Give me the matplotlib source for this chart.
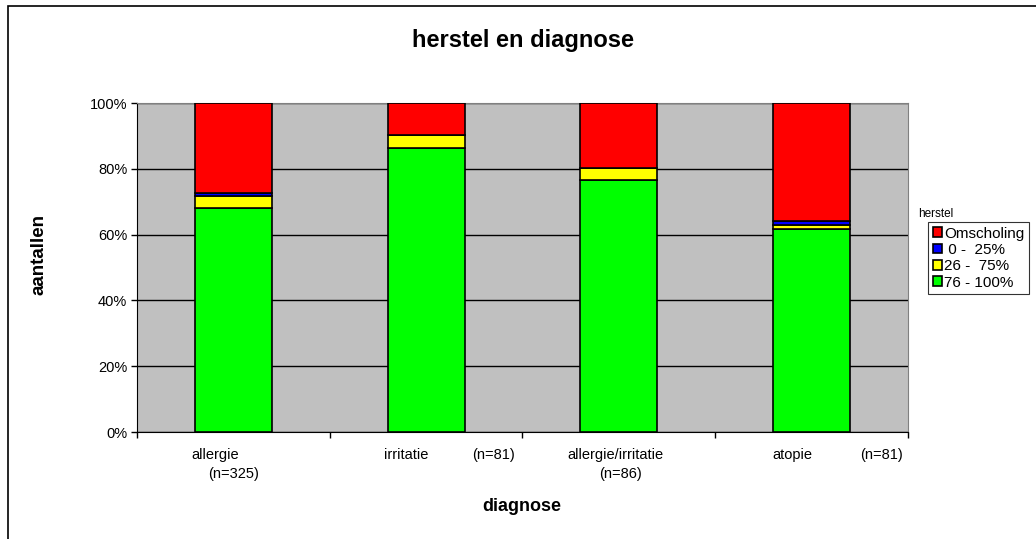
import numpy as np
import matplotlib as mpl

mpl.use('Agg')
import matplotlib.pyplot as plt

plt.rcParams['font.family'] = ['Liberation Sans', 'DejaVu Sans']

categories = ['allergie', 'irritatie', 'allergie/irritatie', 'atopie']
n_labels = ['(n=325)', '(n=81)', '(n=86)', '(n=81)']
# counts per category (normalised to 100%)
green = np.array([221, 70, 66, 50])   # 76 - 100%
yellow = np.array([12, 3, 3, 1])      # 26 - 75%
blue = np.array([3, 0, 0, 1])         # 0 - 25%
red = np.array([89, 8, 17, 29])       # Omscholing

series = [('76 - 100%', green, '#00FF00'),
          ('26 -  75%', yellow, '#FFFF00'),
          (' 0 -  25%', blue, '#0000FF'),
          ('Omscholing', red, '#FF0000')]

total = green + yellow + blue + red

fig = plt.figure(figsize=(10.36, 5.39), dpi=100)
ax = fig.add_axes([0.1322, 0.1985, 0.7442, 0.6104])
ax.set_facecolor('#C0C0C0')

x = np.arange(len(categories))
bottom = np.zeros(len(categories))
handles = []
for label, vals, col in series:
    pct = vals / total
    h = ax.bar(x, pct, 0.4, bottom=bottom, color=col, edgecolor='black', linewidth=1.2,
               label=label, zorder=3)
    handles.append(h)
    bottom += pct

ax.set_xlim(-0.5, 3.5)
ax.set_ylim(0, 1)
ax.set_yticks(np.arange(0, 1.01, 0.2))
ax.set_yticklabels(['%d%%' % v for v in range(0, 101, 20)], fontsize=10.5)
ax.yaxis.grid(True, color='black', linewidth=1, zorder=1)
ax.set_axisbelow(True)
ax.set_xticks(np.arange(-0.5, 3.6, 1))
ax.set_xticklabels([])
ax.tick_params(axis='both', direction='out', length=4, width=1, color='black')
ax.tick_params(axis='y', pad=3)
for s in ['top', 'right']:
    ax.spines[s].set_color('#808080')
for s in ['left', 'bottom']:
    ax.spines[s].set_color('black')

# category labels as Excel wraps them
name_off = [-0.095, -0.104, -0.02, -0.102]
n_off = [0.003, 0.352, 0.011, 0.365]
n_row = [1, 0, 1, 0]
for i in range(len(categories)):
    ax.text(i + name_off[i], -0.07, categories[i], ha='center', va='center', fontsize=10.5,
            transform=ax.get_xaxis_transform())
    ax.text(i + n_off[i], -0.07 - 0.058 * n_row[i], n_labels[i], ha='center', va='center',
            fontsize=10.5, transform=ax.get_xaxis_transform())

fig.text(0.505, 0.924, 'herstel en diagnose', ha='center', va='center', fontsize=17,
         fontweight='bold')
fig.text(0.0376, 0.528, 'aantallen', ha='center', va='center', rotation=90, fontsize=13.5,
         fontweight='bold')
fig.text(0.504, 0.061, 'diagnose', ha='center', va='center', fontsize=13, fontweight='bold')

fig.text(0.886, 0.603, 'herstel', ha='left', va='center', fontsize=8.5)
leg = fig.legend(handles[::-1], [s[0] for s in series][::-1], loc='upper left',
                 bbox_to_anchor=(0.896, 0.588), fontsize=11, frameon=True, fancybox=False,
                 edgecolor='black', handlelength=0.6, handleheight=0.6, handletextpad=0.15,
                 labelspacing=0.15, borderpad=0.3, borderaxespad=0)
leg.get_frame().set_linewidth(0.8)

# chart border (only left and top edges are visible in the image)
fig.patches.append(plt.Rectangle((0.0077, -0.02), 1.1, 1.0089, transform=fig.transFigure,
                                 fill=False, edgecolor='black', linewidth=1.2))

fig.savefig('out.png', dpi=100)
